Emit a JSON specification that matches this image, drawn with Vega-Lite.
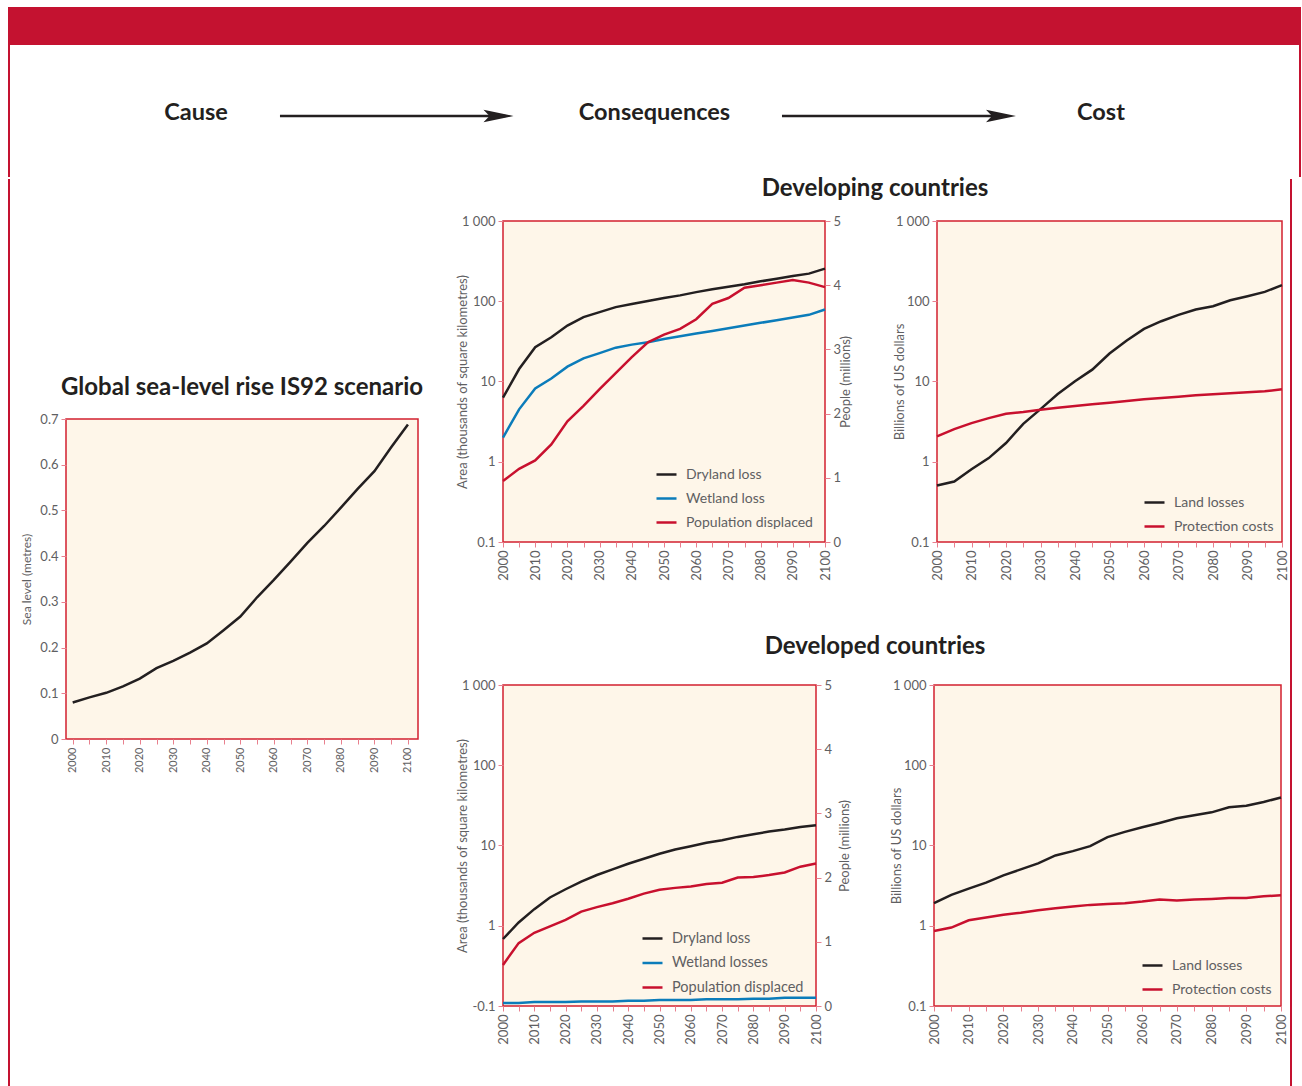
{
  "$schema": "https://vega.github.io/schema/vega-lite/v6.json",
  "background": "white",
  "padding": {"left": 8, "top": 7, "right": 0, "bottom": 0},
  "config": {
    "font": "Lato",
    "view": {"fill": "#fef6e9", "stroke": "#d2202f", "strokeWidth": 1.5},
    "axis": {"domain": false, "grid": false, "tickColor": "#e8808e", "tickSize": 5, "labelColor": "#5f6062", "labelFontSize": 13, "titleColor": "#5f6062", "titleFontSize": 13, "titleFontWeight": "normal", "labelPadding": 3, "titlePadding": 4},
    "legend": {"orient": "bottom-right", "offset": 12, "symbolType": "stroke", "symbolStrokeWidth": 2.5, "symbolSize": 400, "labelFontSize": 14, "labelColor": "#5f6062", "rowPadding": 5, "labelOffset": 8},
    "title": {"fontSize": 24, "fontWeight": "bold", "color": "#231f20", "anchor": "middle"},
    "line": {"strokeWidth": 2.5}
  },
  "datasets": {
    "sea": [
      {"year": 2000, "level": 0.080}, {"year": 2005, "level": 0.091}, {"year": 2010, "level": 0.101},
      {"year": 2015, "level": 0.115}, {"year": 2020, "level": 0.132}, {"year": 2025, "level": 0.155},
      {"year": 2030, "level": 0.171}, {"year": 2035, "level": 0.189}, {"year": 2040, "level": 0.209},
      {"year": 2045, "level": 0.238}, {"year": 2050, "level": 0.268}, {"year": 2055, "level": 0.310},
      {"year": 2060, "level": 0.348}, {"year": 2065, "level": 0.388}, {"year": 2070, "level": 0.429},
      {"year": 2075, "level": 0.466}, {"year": 2080, "level": 0.506}, {"year": 2085, "level": 0.547},
      {"year": 2090, "level": 0.586}, {"year": 2095, "level": 0.638}, {"year": 2100, "level": 0.688}
    ],
    "devCons": [
      {"year": 2000, "Dryland loss": 6.3, "Wetland loss": 2.0, "Population displaced": 0.95},
      {"year": 2005, "Dryland loss": 14.3, "Wetland loss": 4.5, "Population displaced": 1.14},
      {"year": 2010, "Dryland loss": 26.7, "Wetland loss": 8.2, "Population displaced": 1.27},
      {"year": 2015, "Dryland loss": 35.6, "Wetland loss": 10.9, "Population displaced": 1.52},
      {"year": 2020, "Dryland loss": 49.8, "Wetland loss": 15.3, "Population displaced": 1.88},
      {"year": 2025, "Dryland loss": 63.4, "Wetland loss": 19.4, "Population displaced": 2.12},
      {"year": 2030, "Dryland loss": 73.2, "Wetland loss": 22.6, "Population displaced": 2.38},
      {"year": 2035, "Dryland loss": 84.5, "Wetland loss": 26.4, "Population displaced": 2.63},
      {"year": 2040, "Dryland loss": 92.2, "Wetland loss": 28.8, "Population displaced": 2.88},
      {"year": 2045, "Dryland loss": 100.5, "Wetland loss": 30.8, "Population displaced": 3.11},
      {"year": 2050, "Dryland loss": 109.6, "Wetland loss": 33.9, "Population displaced": 3.23},
      {"year": 2055, "Dryland loss": 118.4, "Wetland loss": 36.6, "Population displaced": 3.32},
      {"year": 2060, "Dryland loss": 130, "Wetland loss": 39.6, "Population displaced": 3.47},
      {"year": 2065, "Dryland loss": 140.8, "Wetland loss": 42.7, "Population displaced": 3.71},
      {"year": 2070, "Dryland loss": 152, "Wetland loss": 46.1, "Population displaced": 3.80},
      {"year": 2075, "Dryland loss": 162.6, "Wetland loss": 49.8, "Population displaced": 3.96},
      {"year": 2080, "Dryland loss": 177, "Wetland loss": 53.8, "Population displaced": 4.00},
      {"year": 2085, "Dryland loss": 191, "Wetland loss": 58.1, "Population displaced": 4.04},
      {"year": 2090, "Dryland loss": 206.6, "Wetland loss": 62.7, "Population displaced": 4.08},
      {"year": 2095, "Dryland loss": 221, "Wetland loss": 67.7, "Population displaced": 4.04},
      {"year": 2100, "Dryland loss": 255, "Wetland loss": 79, "Population displaced": 3.97}
    ],
    "devCost": [
      {"year": 2000, "Land losses": 0.505, "Protection costs": 2.07},
      {"year": 2005, "Land losses": 0.567, "Protection costs": 2.55},
      {"year": 2010, "Land losses": 0.807, "Protection costs": 3.03},
      {"year": 2015, "Land losses": 1.11, "Protection costs": 3.50},
      {"year": 2020, "Land losses": 1.71, "Protection costs": 3.97},
      {"year": 2025, "Land losses": 2.97, "Protection costs": 4.16},
      {"year": 2030, "Land losses": 4.53, "Protection costs": 4.45},
      {"year": 2035, "Land losses": 6.98, "Protection costs": 4.71},
      {"year": 2040, "Land losses": 10.05, "Protection costs": 4.94},
      {"year": 2045, "Land losses": 14.05, "Protection costs": 5.19},
      {"year": 2050, "Land losses": 22.3, "Protection costs": 5.44},
      {"year": 2055, "Land losses": 32.4, "Protection costs": 5.71},
      {"year": 2060, "Land losses": 45.3, "Protection costs": 5.99},
      {"year": 2065, "Land losses": 56.4, "Protection costs": 6.22},
      {"year": 2070, "Land losses": 67.6, "Protection costs": 6.47},
      {"year": 2075, "Land losses": 78.9, "Protection costs": 6.72},
      {"year": 2080, "Land losses": 86.8, "Protection costs": 6.92},
      {"year": 2085, "Land losses": 103, "Protection costs": 7.12},
      {"year": 2090, "Land losses": 115.7, "Protection costs": 7.32},
      {"year": 2095, "Land losses": 131, "Protection costs": 7.54},
      {"year": 2100, "Land losses": 158.8, "Protection costs": 7.98}
    ],
    "dvdCons": [
      {"year": 2000, "Dryland loss": 0.684, "Wetland losses": 0.109, "Population displaced": 0.64},
      {"year": 2005, "Dryland loss": 1.10, "Wetland losses": 0.109, "Population displaced": 0.98},
      {"year": 2010, "Dryland loss": 1.61, "Wetland losses": 0.112, "Population displaced": 1.14},
      {"year": 2015, "Dryland loss": 2.25, "Wetland losses": 0.112, "Population displaced": 1.24},
      {"year": 2020, "Dryland loss": 2.85, "Wetland losses": 0.112, "Population displaced": 1.34},
      {"year": 2025, "Dryland loss": 3.55, "Wetland losses": 0.114, "Population displaced": 1.47},
      {"year": 2030, "Dryland loss": 4.29, "Wetland losses": 0.114, "Population displaced": 1.54},
      {"year": 2035, "Dryland loss": 5.04, "Wetland losses": 0.114, "Population displaced": 1.60},
      {"year": 2040, "Dryland loss": 5.93, "Wetland losses": 0.116, "Population displaced": 1.67},
      {"year": 2045, "Dryland loss": 6.83, "Wetland losses": 0.116, "Population displaced": 1.75},
      {"year": 2050, "Dryland loss": 7.88, "Wetland losses": 0.119, "Population displaced": 1.81},
      {"year": 2055, "Dryland loss": 8.92, "Wetland losses": 0.119, "Population displaced": 1.84},
      {"year": 2060, "Dryland loss": 9.81, "Wetland losses": 0.119, "Population displaced": 1.86},
      {"year": 2065, "Dryland loss": 10.8, "Wetland losses": 0.121, "Population displaced": 1.90},
      {"year": 2070, "Dryland loss": 11.6, "Wetland losses": 0.121, "Population displaced": 1.92},
      {"year": 2075, "Dryland loss": 12.8, "Wetland losses": 0.121, "Population displaced": 2.00},
      {"year": 2080, "Dryland loss": 13.8, "Wetland losses": 0.123, "Population displaced": 2.01},
      {"year": 2085, "Dryland loss": 14.9, "Wetland losses": 0.123, "Population displaced": 2.04},
      {"year": 2090, "Dryland loss": 15.8, "Wetland losses": 0.127, "Population displaced": 2.08},
      {"year": 2095, "Dryland loss": 17.0, "Wetland losses": 0.127, "Population displaced": 2.17},
      {"year": 2100, "Dryland loss": 17.9, "Wetland losses": 0.127, "Population displaced": 2.22}
    ],
    "dvdCost": [
      {"year": 2000, "Land losses": 1.91, "Protection costs": 0.86},
      {"year": 2005, "Land losses": 2.42, "Protection costs": 0.95},
      {"year": 2010, "Land losses": 2.90, "Protection costs": 1.17},
      {"year": 2015, "Land losses": 3.44, "Protection costs": 1.27},
      {"year": 2020, "Land losses": 4.25, "Protection costs": 1.37},
      {"year": 2025, "Land losses": 5.04, "Protection costs": 1.45},
      {"year": 2030, "Land losses": 5.98, "Protection costs": 1.56},
      {"year": 2035, "Land losses": 7.51, "Protection costs": 1.65},
      {"year": 2040, "Land losses": 8.51, "Protection costs": 1.74},
      {"year": 2045, "Land losses": 9.81, "Protection costs": 1.82},
      {"year": 2050, "Land losses": 12.7, "Protection costs": 1.86},
      {"year": 2055, "Land losses": 14.8, "Protection costs": 1.91},
      {"year": 2060, "Land losses": 16.9, "Protection costs": 2.00},
      {"year": 2065, "Land losses": 19.1, "Protection costs": 2.12},
      {"year": 2070, "Land losses": 21.8, "Protection costs": 2.06},
      {"year": 2075, "Land losses": 23.8, "Protection costs": 2.12},
      {"year": 2080, "Land losses": 25.9, "Protection costs": 2.16},
      {"year": 2085, "Land losses": 29.9, "Protection costs": 2.22},
      {"year": 2090, "Land losses": 31.3, "Protection costs": 2.22},
      {"year": 2095, "Land losses": 34.8, "Protection costs": 2.33},
      {"year": 2100, "Land losses": 39.7, "Protection costs": 2.40}
    ],
    "header": [
      {"step": 1, "next": 2, "label": "Cause"},
      {"step": 2, "next": 3, "label": "Consequences"},
      {"step": 3, "next": 4, "label": "Cost"}
    ]
  },
  "spacing": 0,
  "resolve": {"scale": {"color": "independent"}, "legend": {"color": "independent"}},
  "vconcat": [
    {
      "width": 1293, "height": 38,
      "view": {"fill": "#c41230", "stroke": null},
      "data": {"values": [{}]},
      "mark": "text",
      "encoding": {"text": {"value": ""}}
    },
    {
      "spacing": 0,
      "hconcat": [
        {
          "width": 2, "height": 132,
          "view": {"fill": "#c41230", "stroke": null},
          "data": {"values": [{}]},
          "mark": "text",
          "encoding": {"text": {"value": ""}}
        },
        {
          "width": 1289, "height": 132,
          "view": {"fill": null, "stroke": null},
          "data": {"name": "header"},
          "layer": [
            {
              "transform": [{"filter": "datum.step != 2"}],
              "mark": {"type": "text", "fontSize": 23.5, "fontWeight": "bold", "color": "#231f20", "dy": 2},
              "encoding": {
                "x": {"field": "step", "type": "quantitative", "scale": {"domain": [0.589, 3.4376], "nice": false, "zero": false}, "axis": null},
                "y": {"datum": 0, "type": "quantitative", "scale": {"domain": [-1, 1]}, "axis": null},
                "text": {"field": "label"}
              }
            },
            {
              "transform": [{"filter": "datum.step == 2"}],
              "mark": {"type": "text", "fontSize": 23.5, "fontWeight": "bold", "color": "#231f20", "dy": 2, "dx": 6},
              "encoding": {
                "x": {"field": "step", "type": "quantitative"},
                "y": {"datum": 0, "type": "quantitative"},
                "text": {"field": "label"}
              }
            },
            {
              "transform": [{"filter": "datum.step == 1"}],
              "mark": {"type": "rule", "color": "#231f20", "strokeWidth": 2.5, "xOffset": 84, "x2Offset": -143, "yOffset": 5},
              "encoding": {
                "x": {"field": "step", "type": "quantitative"},
                "x2": {"field": "next"},
                "y": {"datum": 0, "type": "quantitative"}
              }
            },
            {
              "transform": [{"filter": "datum.step == 1"}],
              "mark": {"type": "point", "shape": "M-1,-0.42L1,0L-1,0.42L-0.6,0Z", "size": 900, "filled": true, "opacity": 1, "color": "#231f20", "strokeWidth": 0, "xOffset": -150, "yOffset": 5},
              "encoding": {
                "x": {"field": "next", "type": "quantitative"},
                "y": {"datum": 0, "type": "quantitative"}
              }
            },
            {
              "transform": [{"filter": "datum.step == 2"}],
              "mark": {"type": "rule", "color": "#231f20", "strokeWidth": 2.5, "xOffset": 133.5, "x2Offset": -94, "yOffset": 5},
              "encoding": {
                "x": {"field": "step", "type": "quantitative"},
                "x2": {"field": "next"},
                "y": {"datum": 0, "type": "quantitative"}
              }
            },
            {
              "transform": [{"filter": "datum.step == 2"}],
              "mark": {"type": "point", "shape": "M-1,-0.42L1,0L-1,0.42L-0.6,0Z", "size": 900, "filled": true, "opacity": 1, "color": "#231f20", "strokeWidth": 0, "xOffset": -100, "yOffset": 5},
              "encoding": {
                "x": {"field": "next", "type": "quantitative"},
                "y": {"datum": 0, "type": "quantitative"}
              }
            }
          ]
        },
        {
          "width": 2, "height": 132,
          "view": {"fill": "#c41230", "stroke": null},
          "data": {"values": [{}]},
          "mark": "text",
          "encoding": {"text": {"value": ""}}
        }
      ]
    },
    {
      "spacing": 31,
      "resolve": {"scale": {"color": "independent"}, "legend": {"color": "independent"}},
      "hconcat": [
        {
          "spacing": 10,
          "hconcat": [
            {
              "width": 2, "height": 910,
              "view": {"fill": "#c41230", "stroke": null},
              "data": {"values": [{}]},
              "mark": "text",
              "encoding": {"text": {"value": ""}}
            },
            {
              "spacing": 0,
              "vconcat": [
                {
                  "width": 1, "height": 196,
                  "view": {"fill": null, "stroke": null},
                  "data": {"values": [{}]},
                  "mark": "text",
                  "encoding": {"text": {"value": ""}}
                },
                {
                  "width": 352, "height": 320,
                  "title": {"text": "Global sea-level rise IS92 scenario", "offset": 13},
                  "data": {"name": "sea"},
                  "mark": {"type": "line", "color": "#231f20", "strokeWidth": 2.5},
                  "encoding": {
                    "x": {"field": "year", "type": "quantitative", "scale": {"domain": [1998, 2103], "nice": false, "zero": false},
                      "axis": {"title": null, "values": [2000, 2005, 2010, 2015, 2020, 2025, 2030, 2035, 2040, 2045, 2050, 2055, 2060, 2065, 2070, 2075, 2080, 2085, 2090, 2095, 2100], "labelExpr": "datum.value % 10 === 0 ? datum.label : ''", "format": "d", "labelAngle": -90, "labelFlush": false, "labelOverlap": false, "labelFontSize": 11}},
                    "y": {"field": "level", "type": "quantitative", "scale": {"domain": [0, 0.7], "nice": false},
                      "axis": {"title": "Sea level (metres)", "values": [0, 0.1, 0.2, 0.3, 0.4, 0.5, 0.6, 0.7], "format": "~g", "titleFontSize": 12, "titlePadding": 6}}
                  }
                }
              ]
            }
          ]
        },
        {
          "spacing": -3,
          "resolve": {"scale": {"color": "independent"}, "legend": {"color": "independent"}},
          "hconcat": [
            {
              "spacing": 54,
              "resolve": {"scale": {"color": "independent"}, "legend": {"color": "independent"}},
              "vconcat": [
                {
                  "spacing": 13,
                  "resolve": {"scale": {"color": "independent"}, "legend": {"color": "independent"}},
                  "vconcat": [
                    {
                      "width": 744, "height": 20,
                      "view": {"fill": null, "stroke": null},
                      "data": {"values": [{"label": "Developing countries"}]},
                      "mark": {"type": "text", "fontSize": 24, "fontWeight": "bold", "color": "#231f20"},
                      "encoding": {"text": {"field": "label"}}
                    },
                    {
                      "spacing": 38,
                      "resolve": {"scale": {"color": "independent"}, "legend": {"color": "independent"}},
                      "hconcat": [
                        {
                          "width": 322, "height": 321,
                          "data": {"name": "devCons"},
                          "resolve": {"scale": {"y": "independent"}},
                          "layer": [
                            {
                              "transform": [{"fold": ["Dryland loss", "Wetland loss"], "as": ["series", "value"]}],
                              "mark": {"type": "line", "strokeWidth": 2.5},
                              "encoding": {
                                "x": {"field": "year", "type": "quantitative", "scale": {"domain": [2000, 2100], "nice": false, "zero": false},
                                  "axis": {"title": null, "values": [2000, 2005, 2010, 2015, 2020, 2025, 2030, 2035, 2040, 2045, 2050, 2055, 2060, 2065, 2070, 2075, 2080, 2085, 2090, 2095, 2100], "labelExpr": "datum.value % 10 === 0 ? datum.label : ''", "format": "d", "labelAngle": -90, "labelFlush": false, "labelOverlap": false}},
                                "y": {"field": "value", "type": "quantitative", "scale": {"type": "log", "domain": [0.1, 1000]},
                                  "axis": {"title": "Area (thousands of square kilometres)", "titlePadding": -8, "values": [0.1, 1, 10, 100, 1000], "format": "~r", "labelExpr": "datum.value == 1000 ? '1 000' : datum.label"}},
                                "color": {"field": "series", "type": "nominal", "scale": {"domain": ["Dryland loss", "Wetland loss", "Population displaced"], "range": ["#231f20", "#0b7cba", "#c8102e"]}, "legend": {"title": null}}
                              }
                            },
                            {
                              "transform": [{"fold": ["Population displaced"], "as": ["series", "value"]}],
                              "mark": {"type": "line", "strokeWidth": 2.5},
                              "encoding": {
                                "x": {"field": "year", "type": "quantitative", "scale": {"domain": [2000, 2100], "nice": false, "zero": false},
                                  "axis": {"title": null, "values": [2000, 2005, 2010, 2015, 2020, 2025, 2030, 2035, 2040, 2045, 2050, 2055, 2060, 2065, 2070, 2075, 2080, 2085, 2090, 2095, 2100], "labelExpr": "datum.value % 10 === 0 ? datum.label : ''", "format": "d", "labelAngle": -90, "labelFlush": false, "labelOverlap": false}},
                                "y": {"field": "value", "type": "quantitative", "scale": {"domain": [0, 5], "nice": false},
                                  "axis": {"orient": "right", "title": "People (millions)", "titleAngle": -90, "titlePadding": 12, "values": [0, 1, 2, 3, 4, 5]}},
                                "color": {"field": "series", "type": "nominal", "legend": {"title": null}}
                              }
                            }
                          ]
                        },
                        {
                          "width": 345, "height": 321,
                          "data": {"name": "devCost"},
                          "transform": [{"fold": ["Land losses", "Protection costs"], "as": ["series", "value"]}],
                          "mark": {"type": "line", "strokeWidth": 2.5},
                          "encoding": {
                            "x": {"field": "year", "type": "quantitative", "scale": {"domain": [2000, 2100], "nice": false, "zero": false},
                              "axis": {"title": null, "values": [2000, 2005, 2010, 2015, 2020, 2025, 2030, 2035, 2040, 2045, 2050, 2055, 2060, 2065, 2070, 2075, 2080, 2085, 2090, 2095, 2100], "labelExpr": "datum.value % 10 === 0 ? datum.label : ''", "format": "d", "labelAngle": -90, "labelFlush": false, "labelOverlap": false}},
                            "y": {"field": "value", "type": "quantitative", "scale": {"type": "log", "domain": [0.1, 1000]},
                              "axis": {"title": "Billions of US dollars", "titlePadding": -11, "values": [0.1, 1, 10, 100, 1000], "format": "~r", "labelExpr": "datum.value == 1000 ? '1 000' : datum.label"}},
                            "color": {"field": "series", "type": "nominal", "scale": {"domain": ["Land losses", "Protection costs"], "range": ["#231f20", "#c8102e"]}, "legend": {"title": null, "offset": 8}}
                          }
                        }
                      ]
                    }
                  ]
                },
                {
                  "spacing": 19,
                  "resolve": {"scale": {"color": "independent"}, "legend": {"color": "independent"}},
                  "vconcat": [
                    {
                      "width": 744, "height": 20,
                      "view": {"fill": null, "stroke": null},
                      "data": {"values": [{"label": "Developed countries"}]},
                      "mark": {"type": "text", "fontSize": 24, "fontWeight": "bold", "color": "#231f20"},
                      "encoding": {"text": {"field": "label"}}
                    },
                    {
                      "spacing": 36,
                      "resolve": {"scale": {"color": "independent"}, "legend": {"color": "independent"}},
                      "hconcat": [
                        {
                          "width": 313, "height": 321,
                          "data": {"name": "dvdCons"},
                          "resolve": {"scale": {"y": "independent"}},
                          "layer": [
                            {
                              "transform": [{"fold": ["Dryland loss", "Wetland losses"], "as": ["series", "value"]}],
                              "mark": {"type": "line", "strokeWidth": 2.5},
                              "encoding": {
                                "x": {"field": "year", "type": "quantitative", "scale": {"domain": [2000, 2100], "nice": false, "zero": false},
                                  "axis": {"title": null, "values": [2000, 2005, 2010, 2015, 2020, 2025, 2030, 2035, 2040, 2045, 2050, 2055, 2060, 2065, 2070, 2075, 2080, 2085, 2090, 2095, 2100], "labelExpr": "datum.value % 10 === 0 ? datum.label : ''", "format": "d", "labelAngle": -90, "labelFlush": false, "labelOverlap": false}},
                                "y": {"field": "value", "type": "quantitative", "scale": {"type": "log", "domain": [0.1, 1000]},
                                  "axis": {"title": "Area (thousands of square kilometres)", "titlePadding": -8, "values": [0.1, 1, 10, 100, 1000], "format": "~r", "labelExpr": "datum.value == 1000 ? '1 000' : datum.value < 0.5 ? '-0.1' : datum.label"}},
                                "color": {"field": "series", "type": "nominal", "scale": {"domain": ["Dryland loss", "Wetland losses", "Population displaced"], "range": ["#231f20", "#0b7cba", "#c8102e"]}, "legend": {"title": null, "labelFontSize": 14.5, "rowPadding": 6.5, "offset": 12}}
                              }
                            },
                            {
                              "transform": [{"fold": ["Population displaced"], "as": ["series", "value"]}],
                              "mark": {"type": "line", "strokeWidth": 2.5},
                              "encoding": {
                                "x": {"field": "year", "type": "quantitative", "scale": {"domain": [2000, 2100], "nice": false, "zero": false},
                                  "axis": {"title": null, "values": [2000, 2005, 2010, 2015, 2020, 2025, 2030, 2035, 2040, 2045, 2050, 2055, 2060, 2065, 2070, 2075, 2080, 2085, 2090, 2095, 2100], "labelExpr": "datum.value % 10 === 0 ? datum.label : ''", "format": "d", "labelAngle": -90, "labelFlush": false, "labelOverlap": false}},
                                "y": {"field": "value", "type": "quantitative", "scale": {"domain": [0, 5], "nice": false},
                                  "axis": {"orient": "right", "title": "People (millions)", "titleAngle": -90, "titlePadding": 20, "values": [0, 1, 2, 3, 4, 5]}},
                                "color": {"field": "series", "type": "nominal", "legend": {"title": null}}
                              }
                            }
                          ]
                        },
                        {
                          "width": 347, "height": 321,
                          "data": {"name": "dvdCost"},
                          "transform": [{"fold": ["Land losses", "Protection costs"], "as": ["series", "value"]}],
                          "mark": {"type": "line", "strokeWidth": 2.5},
                          "encoding": {
                            "x": {"field": "year", "type": "quantitative", "scale": {"domain": [2000, 2100], "nice": false, "zero": false},
                              "axis": {"title": null, "values": [2000, 2005, 2010, 2015, 2020, 2025, 2030, 2035, 2040, 2045, 2050, 2055, 2060, 2065, 2070, 2075, 2080, 2085, 2090, 2095, 2100], "labelExpr": "datum.value % 10 === 0 ? datum.label : ''", "format": "d", "labelAngle": -90, "labelFlush": false, "labelOverlap": false}},
                            "y": {"field": "value", "type": "quantitative", "scale": {"type": "log", "domain": [0.1, 1000]},
                              "axis": {"title": "Billions of US dollars", "titlePadding": -11, "values": [0.1, 1, 10, 100, 1000], "format": "~r", "labelExpr": "datum.value == 1000 ? '1 000' : datum.label"}},
                            "color": {"field": "series", "type": "nominal", "scale": {"domain": ["Land losses", "Protection costs"], "range": ["#231f20", "#c8102e"]}, "legend": {"title": null, "offset": 9}}
                          }
                        }
                      ]
                    }
                  ]
                }
              ]
            },
            {
              "width": 2, "height": 910,
              "view": {"fill": "#c41230", "stroke": null},
              "data": {"values": [{}]},
              "mark": "text",
              "encoding": {"text": {"value": ""}}
            }
          ]
        }
      ]
    }
  ]
}
